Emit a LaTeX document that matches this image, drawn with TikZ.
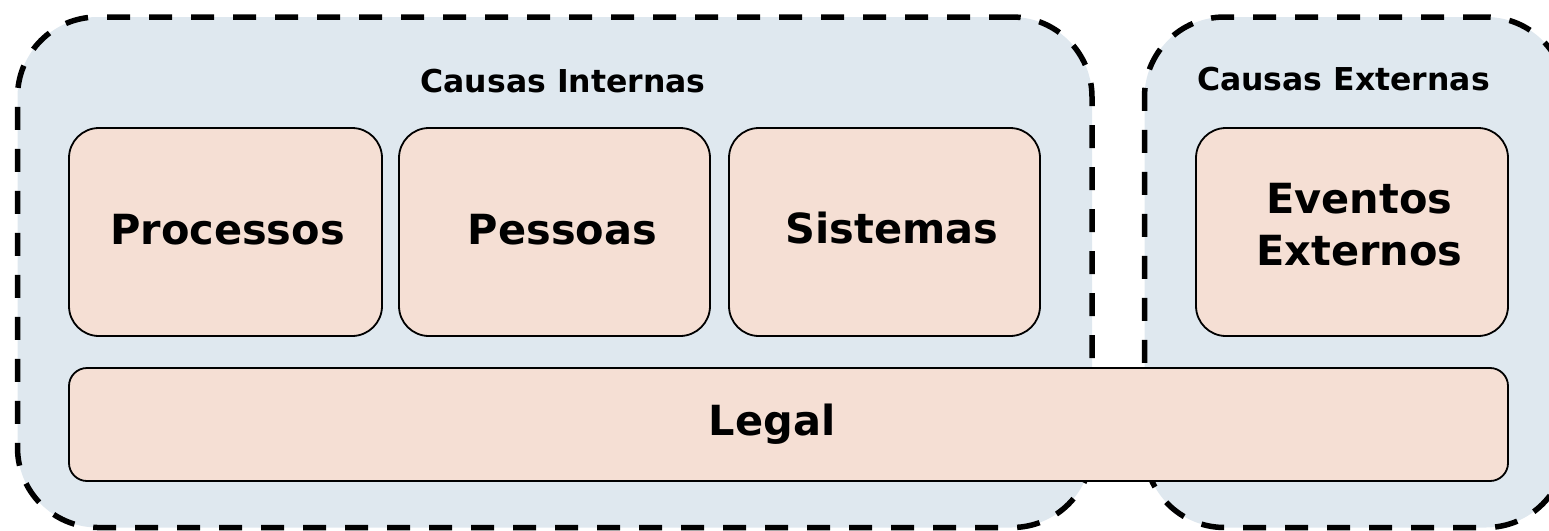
\documentclass[tikz,border=0pt]{standalone}
\usepackage{fontspec}
\setmainfont{DejaVu Sans}
\definecolor{outerfill}{HTML}{DFE8EF}
\definecolor{innerfill}{HTML}{F5DFD4}
\tikzset{
  groupbox/.style={draw=black, fill=outerfill, line width=5.5pt, dash pattern=on 23pt off 19pt,
    rounded corners=80pt, inner sep=0pt, outer sep=0pt, minimum height=510.5pt},
  causebox/.style={draw=black, fill=innerfill, line width=1.8pt, rounded corners=30pt,
    inner sep=0pt, minimum height=208pt},
  legalbox/.style={draw=black, fill=innerfill, line width=1.8pt, rounded corners=18pt,
    inner sep=0pt, minimum width=1439pt, minimum height=113pt},
  bigtext/.style={font=\fontsize{41.5}{52}\selectfont\bfseries, inner sep=0pt, anchor=base, align=center},
  titletext/.style={font=\fontsize{31.5}{38}\selectfont\bfseries, inner sep=0pt, anchor=base}
}
\begin{document}
\begin{tikzpicture}[x=1pt,y=-1pt]
\useasboundingbox (0,0) rectangle (1549,530);
\clip (0,0) rectangle (1549,530);
% group boxes
\node[groupbox, minimum width=1074.5pt] (internas) at (554.75,272.25) {};
\node[groupbox, minimum width=421.5pt] (externas) at (1355.25,272.25) {};
% titles
\node[titletext] (tint) at (563,92) {Causas Internas};
\node[titletext] (text) at (1343.5,90.5) {Causas Externas};
% cause boxes
\node[causebox, minimum width=313pt] (processos) at (225.5,232) {};
\node[causebox, minimum width=311pt] (pessoas) at (554.5,232) {};
\node[causebox, minimum width=311pt] (sistemas) at (884.5,232) {};
\node[causebox, minimum width=312pt] (eventos) at (1352,232) {};
\node[legalbox] (legal) at (788.5,424.5) {};
% labels
\node[bigtext] (lproc) at (227.5,244) {Processos};
\node[bigtext] (lpess) at (562.5,244) {Pessoas};
\node[bigtext] (lsist) at (892,243.5) {Sistemas};
\node[bigtext] (levent) at (1359.5,265) {Eventos\\Externos};
\node[bigtext] (llegal) at (772,435) {Legal};
\end{tikzpicture}
\end{document}
